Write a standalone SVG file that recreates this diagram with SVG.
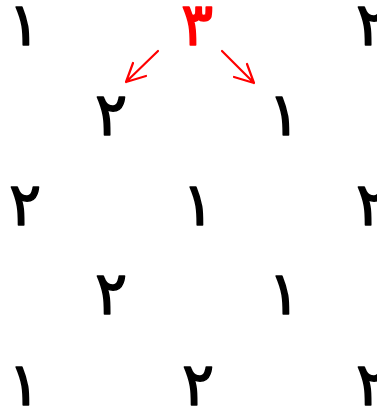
<svg xmlns="http://www.w3.org/2000/svg" width="377" height="406" viewBox="0 0 377 406">
<style>
text{font-family:"DejaVu Sans","Noto Sans",sans-serif;font-size:60px;font-weight:normal;text-anchor:middle;fill:#000;stroke:#000;stroke-width:1.6;stroke-linejoin:round}
.red{fill:#ff0000;stroke:#ff0000}
.arr{stroke:#ff0000;stroke-width:2.2;fill:none;stroke-linecap:round;stroke-linejoin:round}
</style>
<rect width="377" height="406" fill="#fff"/>
<g id="r1c0"><text x="24" y="45">۱</text></g>
<g id="r1c2"><text class="red" x="197" y="45">۳</text></g>
<g id="r1c4"><text x="372" y="45">۲</text></g>
<g id="r2c1"><text x="111" y="135">۲</text></g>
<g id="r2c3"><text x="284" y="135">۱</text></g>
<g id="r3c0"><text x="25" y="225">۲</text></g>
<g id="r3c2"><text x="198" y="225">۱</text></g>
<g id="r3c4"><text x="372" y="225">۲</text></g>
<g id="r4c1"><text x="111" y="314">۲</text></g>
<g id="r4c3"><text x="284" y="314">۱</text></g>
<g id="r5c0"><text x="24" y="405">۱</text></g>
<g id="r5c2"><text x="198" y="405">۲</text></g>
<g id="r5c4"><text x="372" y="405">۲</text></g>
<g id="connectors">
<path class="arr" d="M158,51 L126,82 M126,82 L133,63 M126,82 L146,76"/>
<path class="arr" d="M222,51 L254,83 M254,83 L247,64 M254,83 L234,77"/>
</g>
</svg>
